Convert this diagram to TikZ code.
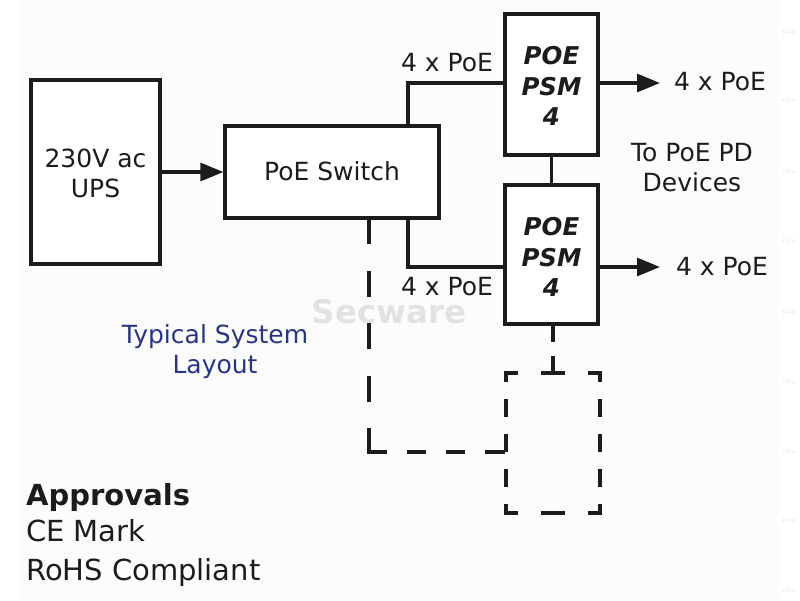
\documentclass[tikz,border=0pt]{standalone}
\usepackage{fontspec}
\setmainfont{DejaVu Sans}
\usetikzlibrary{arrows.meta}
\definecolor{ink}{RGB}{28,28,28}
\definecolor{blueink}{RGB}{40,52,140}
\definecolor{wm}{RGB}{226,226,226}
\definecolor{wmfaint}{RGB}{232,232,232}
\definecolor{bgpaper}{RGB}{252,252,252}
\tikzset{
  box/.style={draw=ink, line width=3.2pt, rectangle, inner sep=0pt, fill=white},
  ghost/.style={rectangle, inner sep=0pt, outer sep=0pt},
  wire/.style={draw=ink, line width=3.2pt},
  dsh/.style={draw=ink, line width=3.2pt, line cap=rect},
  dboxv/.style={dsh, dash pattern=on 14.3pt off 20.7pt, dash phase=7.15pt},
  dboxh/.style={dsh, dash pattern=on 20.3pt off 26.7pt, dash phase=10.15pt},
  dlv/.style={dsh, dash pattern=on 22.8pt off 29.7pt},
  dlh/.style={dsh, dash pattern=on 16.3pt off 22.9pt},
  dshort/.style={dsh, dash pattern=on 15pt off 17pt},
  arr/.style={wire, -{Triangle[length=23pt,width=18pt]}},
  lbl/.style={text=ink, font=\fontsize{25}{30}\selectfont, inner sep=0pt, align=center},
  psmtxt/.style={text=ink, font=\fontsize{24.5}{30.5}\selectfont\bfseries\itshape, align=center},
  apptxt/.style={text=ink, font=\fontsize{29}{35}\selectfont, inner sep=0pt, anchor=base west},
}
\begin{document}
\begin{tikzpicture}[x=1pt,y=-1pt]
\useasboundingbox (0,0) rectangle (800,600);
\fill[white] (0,0) rectangle (800,600);
\fill[bgpaper] (20,0) rectangle (778,600);
% watermark
\node[text=wm, font=\fontsize{32.5}{36}\selectfont\bfseries] (wmk) at (389,312) {Secware};
\foreach \yy [count=\i] in {32,101,172,242,312,382,452,521,591}
  \node[text=wmfaint, font=\fontsize{7}{8}\selectfont, anchor=west, inner sep=0pt] (co\i) at (781,\yy) {co.u};
% boxes
\node[box, minimum width=129pt, minimum height=184pt] (ups) at (95.5,172) {};
\node[lbl] (upst) at (95.5,173) {230V ac\\UPS};
\node[box, minimum width=214pt, minimum height=92pt] (sw) at (332,172) {};
\node[lbl] (swt) at (332,171) {PoE Switch};
\node[box, minimum width=93pt, minimum height=141pt] (psmA) at (551.5,84.5) {};
\node[psmtxt] (psmAt) at (551.5,86) {POE\\PSM\\4};
\node[box, minimum width=93pt, minimum height=139pt] (psmB) at (551.5,254.5) {};
\node[psmtxt] (psmBt) at (551.5,257) {POE\\PSM\\4};
\node[ghost, minimum width=94pt, minimum height=140pt] (spare) at (553,443) {};
% dashed spare box
\draw[dboxv] (spare.north west) -- (spare.south west);
\draw[dboxv] (spare.north east) -- (spare.south east);
\draw[dboxh] (spare.north west) -- (spare.north east);
\draw[dboxh] (spare.south west) -- (spare.south east);
% coordinates
\coordinate (ta) at (408,83);
\coordinate (tb) at (408,267);
\coordinate (oa) at (660,83);
\coordinate (ob) at (660,267);
\coordinate (da) at (369,452);
% connectors
\draw[arr] (ups) -- (sw);
\draw[wire] (sw.north -| ta) |- (psmA.west |- ta);
\draw[wire] (sw.south -| tb) |- (psmB.west |- tb);
\draw[wire] (psmA) -- (psmB);
\draw[arr] (psmA.east |- oa) -- (oa);
\draw[arr] (psmB.east |- ob) -- (ob);
\draw[dlv] (sw.south -| da) -- (da);
\draw[dlh] (da) -- (spare.west |- da);
\draw[dshort] (psmB.south -| spare.north) -- (spare.north);
% labels
\node[lbl] (la) at (447,63) {4 x PoE};
\node[lbl] (lb) at (447,287) {4 x PoE};
\node[lbl] (ra) at (720,82) {4 x PoE};
\node[lbl] (rb) at (722,267) {4 x PoE};
\node[lbl] (pd) at (692,168) {To PoE PD\\Devices};
\node[lbl, text=blueink] (typ) at (215,352) {Typical System\\Layout};
% approvals
\node[apptxt, font=\fontsize{29}{35}\selectfont\bfseries] (appr) at (26,505) {Approvals};
\node[apptxt] (ce) at (26,541) {CE Mark};
\node[apptxt] (rohs) at (26,580) {RoHS Compliant};
\end{tikzpicture}
\end{document}
